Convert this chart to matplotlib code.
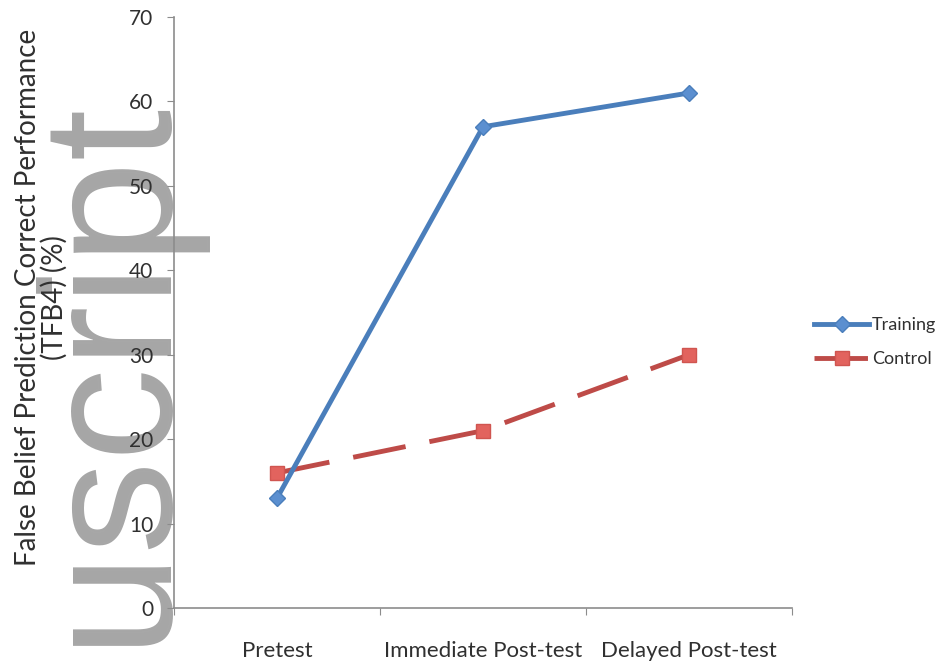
import matplotlib
matplotlib.use("Agg")
import matplotlib.pyplot as plt
import numpy as np

# Data
phases = ["Pretest", "Immediate Post-test", "Delayed Post-test"]
training = [13, 57, 61]
control = [16, 21, 30]
y_ticks = [0, 10, 20, 30, 40, 50, 60, 70]

plt.rcParams['font.family'] = ['Lato', 'DejaVu Sans']

fig = plt.figure(figsize=(9.44, 6.68), dpi=100)
fig.patch.set_facecolor("white")

# Watermark behind the chart
fig.text(160 / 944, 1 - 96 / 668, "manuscript", rotation=90, rotation_mode="anchor",
         ha="right", va="baseline", fontsize=134, color="#a6a6a6",
         family="Liberation Sans", zorder=-5)

ax = fig.add_axes([174 / 944, 1 - 608 / 668, 618 / 944, 591 / 668])
ax.patch.set_alpha(0)

x = np.arange(len(phases)) + 0.5

ax.plot(x, training, color="#4A7EBB", lw=3.5, marker="D", markersize=8,
        markerfacecolor="#5B8FD0", markeredgecolor="#4A7EBB", label="Training", zorder=3)
ax.plot(x, control, color="#BE4B48", lw=3.5, dashes=(11, 5), marker="s", markersize=10,
        markerfacecolor="#E2635E", markeredgecolor="#D05550", label="Control", zorder=2)

ax.set_xlim(0, len(phases))
ax.set_ylim(0, 70)
ax.set_yticks(y_ticks)

# category boundaries as ticks, labels in the middle
ax.set_xticks(np.arange(len(phases) + 1))
ax.set_xticklabels([])
ax.set_xticks(x, minor=True)
ax.set_xticklabels(phases, minor=True)
ax.tick_params(axis="x", which="major", direction="out", length=5, color="#8c8c8c")
ax.tick_params(axis="x", which="minor", length=0, pad=24, labelsize=16, labelcolor="#303030")
ax.tick_params(axis="y", direction="out", length=5, color="#8c8c8c", pad=10,
               labelsize=15, labelcolor="#303030")

for side in ["top", "right"]:
    ax.spines[side].set_visible(False)
for side in ["left", "bottom"]:
    ax.spines[side].set_color("#8c8c8c")
    ax.spines[side].set_linewidth(1.2)

ax.set_ylabel("False Belief Prediction Correct Performance\n(TFB4) (%)",
              fontsize=20, color="#303030", linespacing=1.0, va="center")
ax.yaxis.set_label_coords(-0.215, 0.526)

leg = ax.legend(loc="center left", bbox_to_anchor=(1.01, 0.45), frameon=False,
                fontsize=13, handlelength=3.0, handletextpad=0.2, labelspacing=1.0)
for t in leg.get_texts():
    t.set_color("#303030")

fig.savefig("out.png", dpi=100, facecolor="white")
